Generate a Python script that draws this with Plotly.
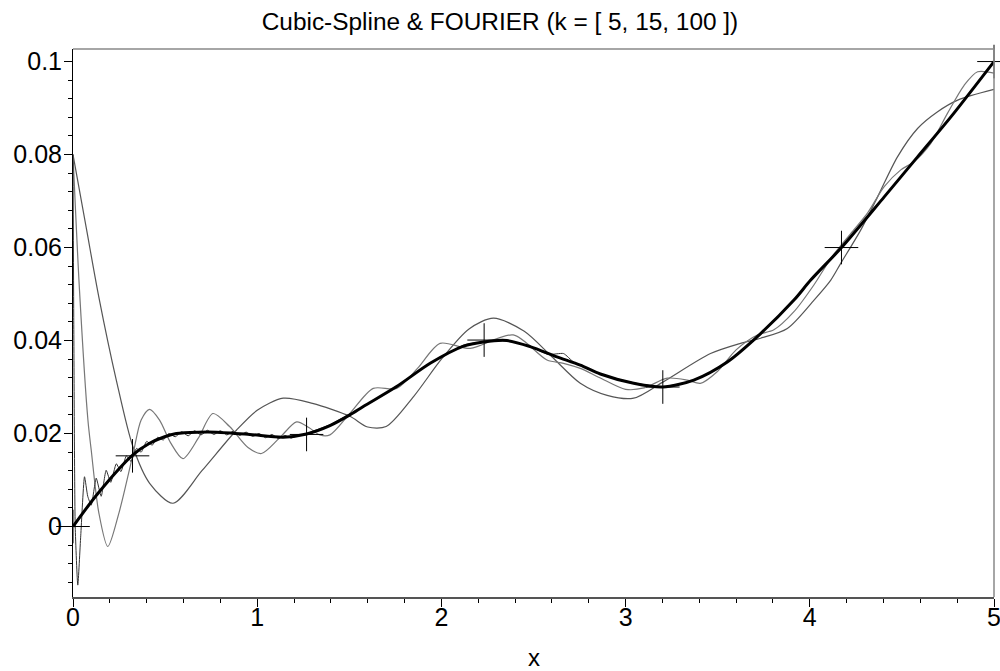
import plotly.graph_objects as go

# data points (crosses)
pts_x = [0.0, 0.323, 1.268, 2.232, 3.202, 4.172, 5.0]
pts_y = [0.0, 0.0152, 0.0198, 0.0401, 0.0300, 0.0600, 0.1000]

# cubic spline
spl_x = [0.0, 0.135, 0.325, 0.416, 0.4975, 0.561, 0.679, 0.779, 0.96, 1.141, 1.268,
         1.395, 1.503, 1.576, 1.757, 1.939, 2.12, 2.228, 2.356, 2.482, 2.627, 2.754,
         2.863, 3.044, 3.202, 3.37, 3.552, 3.733, 3.914, 4.005, 4.172, 4.404, 4.585,
         4.766, 5.0]
spl_y = [0.0, 0.0071, 0.0154, 0.0179, 0.0193, 0.0200, 0.0203, 0.0203, 0.0198, 0.0192, 0.0199,
         0.0217, 0.0240, 0.0258, 0.0301, 0.0351, 0.0388, 0.0397, 0.0400, 0.0387, 0.0365, 0.0347,
         0.0328, 0.0308, 0.0300, 0.0315, 0.0354, 0.0415, 0.0487, 0.0530, 0.0600, 0.0709, 0.0795,
         0.0881, 0.1000]

# Fourier, k = 5
f5_x = [0.0, 0.073, 0.14, 0.235, 0.325, 0.416, 0.543, 0.70, 0.887, 1.0, 1.141, 1.30,
        1.503, 1.60, 1.70, 1.85, 2.0, 2.15, 2.283, 2.45, 2.60, 2.754, 2.90, 3.044,
        3.20, 3.461, 3.624, 3.733, 3.878, 4.023, 4.114, 4.168, 4.277, 4.368, 4.476,
        4.585, 4.694, 4.803, 5.0]
f5_y = [0.080, 0.064, 0.0494, 0.0315, 0.0172, 0.0093, 0.0050, 0.0120, 0.0207, 0.0250, 0.0276, 0.0265,
        0.0237, 0.0214, 0.0215, 0.0280, 0.0360, 0.0425, 0.0448, 0.0420, 0.0365, 0.0308, 0.0282, 0.0276,
        0.0310, 0.0372, 0.0394, 0.0405, 0.0426, 0.0487, 0.0530, 0.0566, 0.0638, 0.0709, 0.0795,
        0.0856, 0.0892, 0.0917, 0.0940]

# Fourier, k = 15
f15_x = [0.0, 0.035, 0.081, 0.099, 0.14, 0.189, 0.25, 0.325, 0.37, 0.416, 0.47, 0.53,
         0.597, 0.68, 0.76, 0.85, 0.95, 1.023, 1.12, 1.214, 1.28, 1.34, 1.395, 1.503,
         1.63, 1.757, 1.87, 1.993, 2.156, 2.39, 2.573, 2.663, 2.754, 2.86, 3.0, 3.1,
         3.226, 3.335, 3.406, 3.497, 3.60, 3.715, 3.805, 3.914, 4.023, 4.12, 4.222,
         4.313, 4.404, 4.494, 4.567, 4.657, 4.748, 4.838, 4.911, 5.0]
f15_y = [0.080, 0.051, 0.0229, 0.0164, 0.0030, -0.0043, 0.0030, 0.0154, 0.0229, 0.0252, 0.0229, 0.0180,
         0.0146, 0.0190, 0.0243, 0.0215, 0.0170, 0.0157, 0.0190, 0.0225, 0.0213, 0.0197, 0.0197, 0.0243,
         0.0297, 0.0297, 0.0340, 0.0394, 0.0383, 0.0412, 0.0358, 0.0351, 0.0340, 0.0320, 0.0295, 0.0298,
         0.0319, 0.0315, 0.0308, 0.0333, 0.0380, 0.0412, 0.0423, 0.0462, 0.0520, 0.0580, 0.0630,
         0.0674, 0.0731, 0.0767, 0.0785, 0.0824, 0.0889, 0.0949, 0.0978, 0.0975]

# Fourier, k = 100
f100_x = [0.0, 0.004, 0.012, 0.026, 0.042, 0.0625, 0.08, 0.099, 0.126, 0.153, 0.18, 0.205,
          0.235, 0.26, 0.29, 0.315, 0.345, 0.37, 0.40, 0.43, 0.46, 0.49, 0.52, 0.555,
          0.59, 0.625, 0.66, 0.695, 0.73, 0.765, 0.80, 0.835, 0.87, 0.905, 0.94, 0.975,
          1.01, 1.045, 1.08, 1.115, 1.15, 1.185, 1.22, 1.255, 1.29, 1.395, 1.503, 1.576,
          1.757, 1.939, 2.12, 2.228, 2.356, 2.482, 2.58, 2.663, 2.72, 2.863, 3.044, 3.202,
          3.37, 3.552, 3.733, 3.914, 4.005, 4.172, 4.404, 4.585, 4.766, 5.0]
f100_y = [0.080, 0.045, 0.000, -0.0126, -0.0020, 0.0107, 0.0065, 0.0046, 0.0104, 0.0065, 0.0121, 0.0095,
          0.0135, 0.0118, 0.0152, 0.0140, 0.0168, 0.0160, 0.0183, 0.0175, 0.0192, 0.0186, 0.0200, 0.0193,
          0.0204, 0.0195, 0.0206, 0.0197, 0.0207, 0.0198, 0.0206, 0.0197, 0.0205, 0.0196, 0.0203, 0.0194,
          0.0200, 0.0191, 0.0198, 0.0189, 0.0196, 0.0190, 0.0198, 0.0196, 0.0203, 0.0219, 0.0242, 0.0257,
          0.0302, 0.0350, 0.0390, 0.0397, 0.0399, 0.0387, 0.0370, 0.0372, 0.0353, 0.0328, 0.0309, 0.0301,
          0.0314, 0.0353, 0.0414, 0.0488, 0.0530, 0.0600, 0.0709, 0.0795, 0.0881, 0.1000]

y_ticks = [0.0, 0.02, 0.04, 0.06, 0.08, 0.1]
y_labels = ["0", "0.02", "0.04", "0.06", "0.08", "0.1"]
x_ticks = [0, 1, 2, 3, 4, 5]
x_labels = ["0", "1", "2", "3", "4", "5"]

FONT = "Liberation Sans, Arial, Helvetica, sans-serif"

fig = go.Figure()
fig.add_trace(go.Scatter(x=f5_x, y=f5_y, mode="lines",
                         line=dict(color="#555555", width=1.2, shape="spline", smoothing=0.8)))
fig.add_trace(go.Scatter(x=f15_x, y=f15_y, mode="lines",
                         line=dict(color="#777777", width=1.2, shape="spline", smoothing=0.8)))
fig.add_trace(go.Scatter(x=f100_x, y=f100_y, mode="lines",
                         line=dict(color="#333333", width=1, shape="spline", smoothing=0.5)))
fig.add_trace(go.Scatter(x=spl_x, y=spl_y, mode="lines",
                         line=dict(color="black", width=3, shape="spline", smoothing=0.8)))
fig.add_trace(go.Scatter(x=pts_x, y=pts_y, mode="markers", cliponaxis=False,
                         marker=dict(symbol="cross-thin", size=24,
                                     line=dict(color="black", width=1), color="black")))

fig.update_layout(
    width=1000, height=671,
    margin=dict(l=73, r=6, t=49, b=74, autoexpand=False),
    paper_bgcolor="white", plot_bgcolor="white",
    showlegend=False,
    font=dict(family=FONT, size=25, color="black"),
    title=dict(text="Cubic-Spline &amp; FOURIER (k = [ 5, 15, 100 ])",
               x=0.5, xanchor="center", y=1 - 21 / 671, yanchor="middle",
               font=dict(family=FONT, size=24.4, color="black")),
    shapes=[
        dict(type="line", xref="paper", yref="paper", x0=0, x1=1, y0=1, y1=1,
             line=dict(color="#888888", width=1.5)),
        dict(type="line", xref="paper", yref="paper", x0=1, x1=1, y0=0, y1=1,
             line=dict(color="#888888", width=1.5)),
    ],
    annotations=[
        dict(text="x", xref="paper", yref="paper", x=0.5, y=0, yshift=-60,
             xanchor="center", yanchor="middle", showarrow=False,
             font=dict(family=FONT, size=24, color="black")),
    ],
)
fig.update_xaxes(range=[0, 5], tickvals=x_ticks, ticktext=x_labels, ticklabeloverflow="allow",
                 automargin=False, ticklabelstandoff=-11,
                 showgrid=False, zeroline=False, showline=True, linecolor="#555555", linewidth=1.5,
                 ticks="outside", ticklen=8, tickcolor="black", tickwidth=1,
                 minor=dict(dtick=0.2, ticks="outside", ticklen=4, tickcolor="black", tickwidth=1),
                 tickfont=dict(size=25))
fig.update_yaxes(range=[-0.01516, 0.1027], tickvals=y_ticks, ticktext=y_labels, ticklabeloverflow="allow",
                 automargin=False, ticklabelstandoff=-3,
                 showgrid=False, zeroline=False, showline=True, linecolor="black", linewidth=1,
                 ticks="outside", ticklen=8, tickcolor="black", tickwidth=1,
                 minor=dict(dtick=0.004, tick0=0, ticks="outside", ticklen=4, tickcolor="black", tickwidth=1),
                 tickfont=dict(size=25))

fig.write_html("out.html")
